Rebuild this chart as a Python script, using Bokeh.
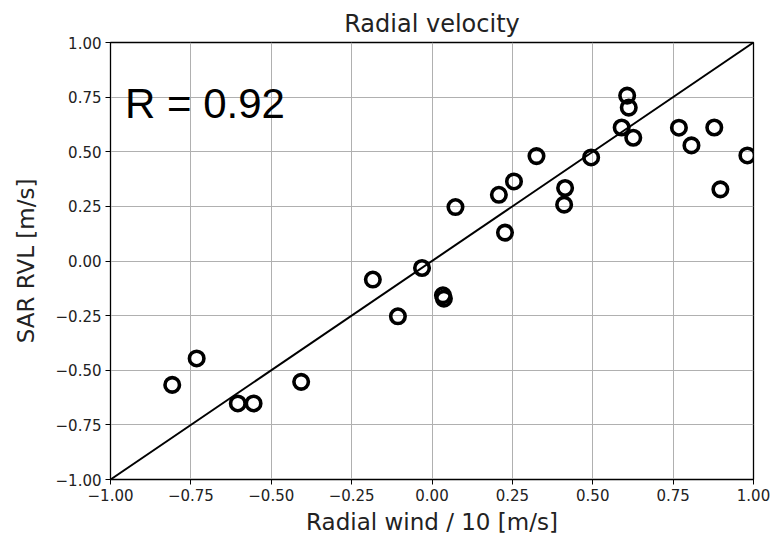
from bokeh.plotting import figure
from bokeh.models import FixedTicker, Range1d, Label
from bokeh.embed import file_html
from bokeh.resources import INLINE

# Data
wind_x = [-0.808, -0.732, -0.604, -0.555, -0.407, -0.184, -0.106, -0.031, 0.034, 0.037,
          0.073, 0.208, 0.227, 0.255, 0.325, 0.414, 0.411, 0.495, 0.590, 0.607,
          0.612, 0.626, 0.768, 0.807, 0.878, 0.897, 0.981]
sar_y = [-0.567, -0.446, -0.652, -0.652, -0.553, -0.085, -0.253, -0.032, -0.157, -0.172,
         0.247, 0.303, 0.130, 0.364, 0.480, 0.334, 0.258, 0.474, 0.611, 0.757,
         0.702, 0.564, 0.610, 0.529, 0.611, 0.328, 0.483]
line_x = [-1.0, 1.0]
line_y = [-1.0, 1.0]
ticks = [-1.0, -0.75, -0.5, -0.25, 0.0, 0.25, 0.5, 0.75, 1.0]
tick_labels = ["\u22121.00", "\u22120.75", "\u22120.50", "\u22120.25", "0.00", "0.25", "0.50", "0.75", "1.00"]
title_text = "Radial velocity"
xlabel = "Radial wind / 10 [m/s]"
ylabel = "SAR RVL [m/s]"
r_text = "R = 0.92"

p = figure(width=771, height=537, output_backend="svg", toolbar_location=None,
           x_range=Range1d(-1, 1), y_range=Range1d(-1, 1),
           min_border_left=110, min_border_right=18, min_border_top=42, min_border_bottom=56)
p.title.text = title_text
p.title.align = "center"
p.title.text_font = "DejaVu Sans"
p.title.text_font_size = "24px"
p.title.text_font_style = "normal"
p.title.text_color = "#222222"
p.title.standoff = 10

p.outline_line_color = "black"
p.outline_line_width = 1.3
p.background_fill_color = "white"
p.border_fill_color = "white"

overrides = {t: l for t, l in zip(ticks, tick_labels)}
for ax in (p.xaxis[0], p.yaxis[0]):
    ax.ticker = FixedTicker(ticks=ticks)
    ax.major_label_overrides = overrides
    ax.minor_tick_line_color = None
    ax.major_tick_out = 5
    ax.major_tick_in = 0
    ax.major_tick_line_color = "black"
    ax.axis_line_color = "black"
    ax.major_label_text_font = "DejaVu Sans"
    ax.major_label_text_font_size = "15px"
    ax.major_label_text_color = "#222222"
    ax.axis_label_text_font = "DejaVu Sans"
    ax.axis_label_text_font_size = "23px"
    ax.axis_label_text_font_style = "normal"
    ax.axis_label_text_color = "#222222"

p.xaxis.axis_label = xlabel
p.yaxis.axis_label = ylabel
p.xaxis.axis_label_standoff = 5
p.yaxis.axis_label_standoff = 14
p.yaxis.major_label_standoff = 4
p.xaxis.major_label_standoff = 4

p.xgrid.ticker = FixedTicker(ticks=ticks)
p.ygrid.ticker = FixedTicker(ticks=ticks)
p.grid.grid_line_color = "#b0b0b0"
p.grid.grid_line_width = 1

p.line(line_x, line_y, line_color="black", line_width=2)
p.scatter(wind_x, sar_y, marker="circle", size=14.5, fill_alpha=0,
          line_color="black", line_width=3.6)

p.add_layout(Label(x=-0.955, y=0.72, text=r_text, text_font="Liberation Sans",
                   text_font_size="42px", text_color="black", text_baseline="alphabetic"))

open("out.html", "w").write(file_html(p, INLINE))
